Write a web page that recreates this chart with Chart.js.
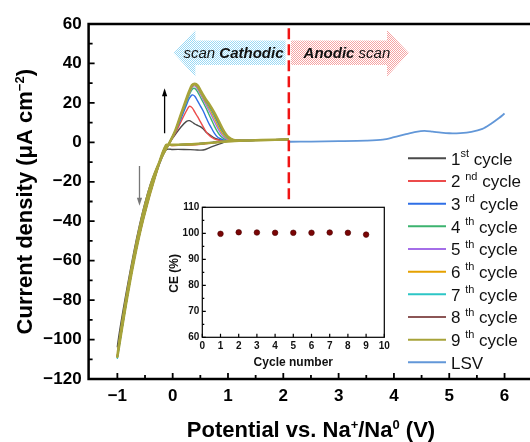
<!DOCTYPE html>
<html>
<head>
<meta charset="utf-8">
<script src="https://cdn.jsdelivr.net/npm/chart.js@4.4.1/dist/chart.umd.min.js"></script>
<style>
  html, body { margin: 0; padding: 0; background: #fff; overflow: hidden; }
  #wrap { position: relative; width: 530px; height: 442px; }
  #main { position: absolute; left: 0; top: 0; }
  #inset { position: absolute; left: 150px; top: 195px; }
</style>
</head>
<body>
<div id="wrap">
  <canvas id="main" width="530" height="442"></canvas>
  <canvas id="inset" width="245" height="180"></canvas>
</div>
<script>
// potential path of one CV cycle (V): cathodic sweep, down to -1 V, back anodic
var cvPotential = [2.1, 1.6, 1.2, 1.0, 0.85, 0.7, 0.55, 0.4, 0.2, 0.0, -0.12,
  -0.3, -0.53, -0.7, -0.85, -1.0,
  -0.82, -0.6, -0.4, -0.2, -0.05,
  0.05, 0.15, 0.25, 0.3, 0.35, 0.4, 0.45, 0.5, 0.55, 0.6, 0.65, 0.7, 0.75, 0.8, 0.85, 0.9, 0.95, 1.0, 1.1, 1.3, 1.6, 2.1];

// current density (uA cm-2) of each cycle
var cycle1 = [1.3, 1.0, 0.9, 0.6, -0.8, -2.3, -3.9, -3.8, -3.6, -3.6, -3.8,
  -16, -38, -58, -80, -103.6,
  -73, -42, -21, -7.5, 0,
  4, 7.8, 10.6, 11.0, 10.3, 9.3, 8.6, 8.0, 6.9, 5.3, 4.2, 3.2, 2.3, 1.7, 1.2, 0.9, 0.8, 0.8, 0.8, 0.9, 1.0, 1.3];
var cycle2 = [1.5, 1.1, 0.9, 0.7, 0.3, -0.3, -0.9, -1.3, -1.5, -1.6, -1.7,
  -16, -39, -59.5, -82.5, -108.3,
  -75.5, -43.5, -21.8, -7.5, 0.1,
  4.8, 10.5, 16, 18.2, 17.6, 15.3, 13, 10.5, 8, 5.6, 3.8, 2.6, 1.8, 1.3, 1.0, 0.9, 0.8, 0.8, 0.8, 0.9, 1.1, 1.5];
var cycle3 = [1.5, 1.1, 0.9, 0.7, 0.4, 0, -0.5, -0.9, -1.2, -1.4, -1.5,
  -15.5, -38.5, -60, -83, -108.7,
  -76, -44, -22, -7.5, 0.2,
  5.5, 12, 19, 22.3, 24, 23.4, 21, 18.5, 16, 12.8, 9.8, 7.3, 4.8, 3, 2, 1.4, 1.1, 0.9, 0.8, 0.9, 1.1, 1.5];
var cycle4 = [1.5, 1.1, 0.8, 0.5, 0.2, -0.2, -0.6, -0.9, -1.1, -1.3, -1.4,
  -15.5, -38.5, -60, -83, -108.5,
  -76, -44, -22, -7.5, 0.2,
  5.8, 13, 20.5, 24, 26.8, 27.3, 25.6, 23, 20.3, 17.5, 14.5, 11.5, 8.5, 5.8, 3.7, 2.3, 1.5, 1.1, 0.9, 0.9, 1.1, 1.5];
var cycle5 = [1.5, 1.1, 0.8, 0.5, 0.2, -0.2, -0.6, -0.9, -1.1, -1.3, -1.4,
  -15.5, -38.5, -60, -83, -108.8,
  -76, -44, -22, -7.5, 0.2,
  6, 13.6, 21.3, 24.8, 27.8, 28.6, 27, 24.5, 21.8, 19.2, 16.5, 13.8, 10.8, 8, 5.4, 3.4, 2.1, 1.4, 1.0, 1.0, 1.1, 1.5];
var cycle6 = [1.5, 1.1, 0.8, 0.5, 0.2, -0.2, -0.6, -0.9, -1.1, -1.3, -1.4,
  -15.5, -38.5, -60, -83, -108.6,
  -76, -44, -22, -7.5, 0.2,
  6, 13.8, 21.6, 25.2, 28.2, 29.2, 27.8, 25.3, 22.8, 20.3, 17.8, 15.3, 12.5, 9.6, 6.8, 4.5, 2.8, 1.8, 1.1, 1.0, 1.1, 1.5];
var cycle7 = [1.5, 1.1, 0.8, 0.5, 0.2, -0.2, -0.6, -0.9, -1.1, -1.3, -1.4,
  -15.5, -38.5, -60, -83.5, -109.5,
  -76.5, -44, -22, -7.5, 0.2,
  6.1, 14, 21.8, 25.5, 28.5, 29.4, 28.3, 25.8, 23.3, 21, 18.6, 16.3, 13.7, 10.8, 8, 5.5, 3.5, 2.2, 1.2, 1.0, 1.2, 1.5];
var cycle8 = [1.5, 1.1, 0.8, 0.5, 0.2, -0.2, -0.6, -0.9, -1.1, -1.3, -1.4,
  -15.5, -38.5, -60, -83, -108.6,
  -76, -44, -22, -7.5, 0.2,
  6.1, 14.1, 22, 25.8, 28.8, 29.6, 28.7, 26.2, 23.8, 21.4, 19.2, 17, 14.5, 11.6, 8.7, 6.1, 4, 2.5, 1.3, 1.0, 1.2, 1.5];
var cycle9 = [1.5, 1.1, 0.8, 0.5, 0.2, -0.2, -0.6, -0.9, -1.1, -1.3, -1.4,
  -15.5, -38.5, -60, -83, -108.7,
  -76, -44, -22, -7.5, 0.2,
  6.2, 14.3, 22.2, 26, 29, 29.7, 28.9, 26.5, 24, 21.7, 19.8, 17.6, 15.2, 12.6, 9.8, 7, 4.6, 2.8, 1.2, 0.9, 1.1, 1.5];

// LSV anodic scan
var lsvPotential = [2.12, 2.5, 3.0, 3.5, 3.8, 4.0, 4.2, 4.4, 4.55, 4.7, 4.85, 5.0, 5.2, 5.4, 5.6, 5.75, 5.9, 6.0];
var lsvCurrent = [0.3, 0.4, 0.6, 0.9, 1.4, 2.6, 4.0, 5.3, 5.8, 5.4, 4.9, 4.6, 4.7, 5.3, 6.8, 9.3, 12.3, 14.6];

// inset: coulombic efficiency
var ceCycle = [1, 2, 3, 4, 5, 6, 7, 8, 9];
var ceValue = [99.8, 100.4, 100.3, 100.2, 100.2, 100.2, 100.3, 100.2, 99.5];

var cycleNumbers = ['1', '2 ', '3 ', '4 ', '5 ', '6 ', '7 ', '8 ', '9 '];
var cycleOrdinals = ['st', 'nd', 'rd', 'th', 'th', 'th', 'th', 'th', 'th'];

var xTicks = [-1, 0, 1, 2, 3, 4, 5, 6];
var yTicks = [-120, -100, -80, -60, -40, -20, 0, 20, 40, 60];
var insetXTicks = [0, 1, 2, 3, 4, 5, 6, 7, 8, 9, 10];
var insetYTicks = [60, 70, 80, 90, 100, 110];

var switchPotential = 2.1;   // dashed line between cathodic / anodic scans
var switchLineBottom = -28.8;

var FONT = "'Liberation Sans', Arial, sans-serif";
var cycleColors = ['#4a4a4a', '#ec4b4b', '#2f6fe6', '#3cb36f', '#a46ee8', '#e5a100', '#2cc6c6', '#8c5656', '#a7a33a'];
var lsvColor = '#6297d8';

var cycles = [cycle1, cycle2, cycle3, cycle4, cycle5, cycle6, cycle7, cycle8, cycle9];

var datasets = [];
cycles.forEach(function (cur, i) {
  datasets.push({
    label: cycleNumbers[i] + cycleOrdinals[i] + ' cycle',
    data: cvPotential.map(function (v, j) { return {x: v, y: cur[j]}; }),
    borderColor: cycleColors[i],
    borderWidth: i == 8 ? 2.6 : 1.4,
    pointRadius: 0,
    tension: 0.3,
    order: 20 - i
  });
});
datasets.push({
  label: 'LSV',
  data: lsvPotential.map(function (v, j) { return {x: v, y: lsvCurrent[j]}; }),
  borderColor: lsvColor,
  borderWidth: 1.8,
  pointRadius: 0,
  tension: 0.3,
  order: 0
});
datasets.push({
  label: 'switch',
  data: [{x: switchPotential, y: switchLineBottom}, {x: switchPotential, y: 60}],
  borderColor: '#f01414',
  borderWidth: 2.5,
  borderDash: [11, 5],
  pointRadius: 0,
  order: -1
});

// draw text made of normal and superscript pieces
function drawRich(ctx, parts, x, y, align, font, supFont, rise) {
  var w = 0;
  parts.forEach(function (p) {
    ctx.font = p[1] ? supFont : font;
    w += ctx.measureText(p[0]).width;
  });
  var cx = align == 'center' ? x - w / 2 : x;
  ctx.textAlign = 'left';
  ctx.textBaseline = 'alphabetic';
  parts.forEach(function (p) {
    ctx.font = p[1] ? supFont : font;
    ctx.fillText(p[0], cx, p[1] ? y - rise : y);
    cx += ctx.measureText(p[0]).width;
  });
}

function dotPattern(ctx, color) {
  var c = document.createElement('canvas');
  c.width = 2; c.height = 2;
  var g = c.getContext('2d');
  g.fillStyle = '#fff';
  g.fillRect(0, 0, 2, 2);
  g.fillStyle = color;
  g.fillRect(0, 0, 1, 1);
  g.fillRect(1, 1, 1, 1);
  return ctx.createPattern(c, 'repeat');
}

function smallArrow(ctx, x, y1, y2, color) {
  ctx.strokeStyle = color;
  ctx.fillStyle = color;
  ctx.lineWidth = 1.3;
  var dir = y2 > y1 ? 1 : -1;
  ctx.beginPath();
  ctx.moveTo(x, y1);
  ctx.lineTo(x, y2 - dir * 7);
  ctx.stroke();
  ctx.beginPath();
  ctx.moveTo(x, y2);
  ctx.lineTo(x - 2.6, y2 - dir * 8);
  ctx.lineTo(x + 2.6, y2 - dir * 8);
  ctx.closePath();
  ctx.fill();
}

// frame, inward ticks, scan arrows
var mainDecor = {
  id: 'mainDecor',
  beforeDatasetsDraw: function (chart) {
    var ctx = chart.ctx, xs = chart.scales.x, ys = chart.scales.y;
    ctx.save();
    // cathodic scan arrow (points left)
    var yc = ys.getPixelForValue(45.3), bt = ys.getPixelForValue(51.6), bb = ys.getPixelForValue(39.2);
    var ht = ys.getPixelForValue(57), hb = ys.getPixelForValue(33.4);
    ctx.fillStyle = dotPattern(ctx, '#9ad9f5');
    ctx.beginPath();
    ctx.moveTo(xs.getPixelForValue(0.016), yc);
    ctx.lineTo(xs.getPixelForValue(0.41), ht);
    ctx.lineTo(xs.getPixelForValue(0.41), bt);
    ctx.lineTo(xs.getPixelForValue(2.04), bt);
    ctx.lineTo(xs.getPixelForValue(2.04), bb);
    ctx.lineTo(xs.getPixelForValue(0.41), bb);
    ctx.lineTo(xs.getPixelForValue(0.41), hb);
    ctx.closePath();
    ctx.fill();
    // anodic scan arrow (points right)
    ctx.fillStyle = dotPattern(ctx, '#f6a3a3');
    ctx.beginPath();
    ctx.moveTo(xs.getPixelForValue(4.27), yc);
    ctx.lineTo(xs.getPixelForValue(3.875), ht);
    ctx.lineTo(xs.getPixelForValue(3.875), bt);
    ctx.lineTo(xs.getPixelForValue(2.14), bt);
    ctx.lineTo(xs.getPixelForValue(2.14), bb);
    ctx.lineTo(xs.getPixelForValue(3.875), bb);
    ctx.lineTo(xs.getPixelForValue(3.875), hb);
    ctx.closePath();
    ctx.fill();
    // arrow texts
    ctx.fillStyle = '#111';
    var ty = yc + 5.5;
    var it = 'italic 15px ' + FONT, bi = 'italic bold 15px ' + FONT;
    var parts = [['scan ', it], ['Cathodic', bi]];
    var w = 0;
    parts.forEach(function (p) { ctx.font = p[1]; w += ctx.measureText(p[0]).width; });
    var cx = xs.getPixelForValue(1.10) - w / 2;
    ctx.textAlign = 'left';
    parts.forEach(function (p) { ctx.font = p[1]; ctx.fillText(p[0], cx, ty); cx += ctx.measureText(p[0]).width; });
    parts = [['Anodic', bi], [' scan', it]];
    w = 0;
    parts.forEach(function (p) { ctx.font = p[1]; w += ctx.measureText(p[0]).width; });
    cx = xs.getPixelForValue(3.15) - w / 2;
    parts.forEach(function (p) { ctx.font = p[1]; ctx.fillText(p[0], cx, ty); cx += ctx.measureText(p[0]).width; });
    // small arrows showing growth of peaks
    smallArrow(ctx, xs.getPixelForValue(-0.146), ys.getPixelForValue(4.6), ys.getPixelForValue(27.4), '#000');
    smallArrow(ctx, xs.getPixelForValue(-0.60), ys.getPixelForValue(-12), ys.getPixelForValue(-32.2), '#777');
    ctx.restore();
  },
  afterDraw: function (chart) {
    var ctx = chart.ctx, a = chart.chartArea, xs = chart.scales.x, ys = chart.scales.y;
    ctx.save();
    ctx.strokeStyle = '#000';
    ctx.lineWidth = 2.5;
    ctx.beginPath();
    ctx.moveTo(a.right + 2, a.top);
    ctx.lineTo(a.left, a.top);
    ctx.lineTo(a.left, a.bottom);
    ctx.lineTo(a.right + 2, a.bottom);
    ctx.stroke();
    ctx.lineWidth = 1.8;
    ctx.beginPath();
    yTicks.forEach(function (v, i) {
      var p = ys.getPixelForValue(v);
      ctx.moveTo(a.left, p); ctx.lineTo(a.left + 6, p);
      if (i < yTicks.length - 1) {
        var m = ys.getPixelForValue(v + 10);
        ctx.moveTo(a.left, m); ctx.lineTo(a.left + 4, m);
      }
    });
    xTicks.forEach(function (v) {
      var p = xs.getPixelForValue(v);
      ctx.moveTo(p, a.bottom); ctx.lineTo(p, a.bottom - 6);
      [v - 0.5, v + 0.5].forEach(function (mv) {
        if (mv > xs.min + 0.03 && mv < xs.max) {
          var m = xs.getPixelForValue(mv);
          ctx.moveTo(m, a.bottom); ctx.lineTo(m, a.bottom - 4);
        }
      });
    });
    ctx.stroke();

    // axis titles
    ctx.fillStyle = '#000';
    drawRich(ctx, [['Potential vs. Na', false], ['+', true], ['/Na', false], ['0', true], [' (V)', false]],
      311, 437.3, 'center', 'bold 22px ' + FONT, 'bold 13px ' + FONT, 8);
    ctx.translate(31.5, 201.7);
    ctx.rotate(-Math.PI / 2);
    drawRich(ctx, [['Current density (\u03bcA cm', false], ['\u22122', true], [')', false]],
      0, 0, 'center', 'bold 22px ' + FONT, 'bold 13px ' + FONT, 8);
    ctx.restore();

    // legend
    ctx.save();
    var rowY = 158.3, step = 22.67;
    var rows = cycles.map(function (c, i) {
      return {color: cycleColors[i], parts: [[cycleNumbers[i], false], [cycleOrdinals[i], true], [' cycle', false]]};
    });
    rows.push({color: lsvColor, parts: [['LSV', false]]});
    rows.forEach(function (r, i) {
      var y = rowY + i * step;
      ctx.strokeStyle = r.color;
      ctx.lineWidth = 2;
      ctx.beginPath();
      ctx.moveTo(408, y); ctx.lineTo(446, y);
      ctx.stroke();
      ctx.fillStyle = '#111';
      drawRich(ctx, r.parts, 451, y + 6.2, 'left', '17px ' + FONT, '11px ' + FONT, 7.5);
    });
    ctx.restore();
  }
};

var mainChart = new Chart(document.getElementById('main'), {
  type: 'line',
  data: {datasets: datasets},
  options: {
    responsive: false,
    animation: false,
    events: [],
    layout: {padding: {top: 24, left: 0, right: 0, bottom: 0}},
    plugins: {legend: {display: false}, tooltip: {enabled: false}},
    scales: {
      x: {
        type: 'linear',
        min: -1.52,
        max: 6.46,
        grid: {display: false, drawTicks: false},
        border: {display: false},
        afterBuildTicks: function (s) { s.ticks = xTicks.map(function (v) { return {value: v}; }); },
        afterFit: function (s) { s.height = 63; },
        ticks: {
          font: {family: FONT, size: 17, weight: 'bold'},
          color: '#000',
          padding: 7,
          maxRotation: 0,
          callback: function (v) { return String(v).replace('-', '\u2212'); }
        }
      },
      y: {
        min: -120,
        max: 60,
        grid: {display: false, drawTicks: false},
        border: {display: false},
        afterBuildTicks: function (s) { s.ticks = yTicks.map(function (v) { return {value: v}; }); },
        afterFit: function (s) { s.width = 88.6; },
        ticks: {
          font: {family: FONT, size: 17, weight: 'bold'},
          color: '#000',
          padding: 7,
          callback: function (v) { return String(v).replace('-', '\u2212'); }
        }
      }
    }
  },
  plugins: [mainDecor]
});

// inset frame, ticks and titles
var insetDecor = {
  id: 'insetDecor',
  afterDraw: function (chart) {
    var ctx = chart.ctx, a = chart.chartArea, xs = chart.scales.x, ys = chart.scales.y;
    ctx.save();
    ctx.strokeStyle = '#000';
    ctx.lineWidth = 1.2;
    ctx.strokeRect(a.left, a.top, a.right - a.left, a.bottom - a.top);
    ctx.beginPath();
    insetYTicks.forEach(function (v, i) {
      var p = ys.getPixelForValue(v);
      ctx.moveTo(a.left, p); ctx.lineTo(a.left + 3.5, p);
      if (i < insetYTicks.length - 1) {
        var m = ys.getPixelForValue(v + 5);
        ctx.moveTo(a.left, m); ctx.lineTo(a.left + 2, m);
      }
    });
    insetXTicks.forEach(function (v) {
      var p = xs.getPixelForValue(v);
      ctx.moveTo(p, a.bottom); ctx.lineTo(p, a.bottom - 3.5);
    });
    ctx.stroke();
    ctx.fillStyle = '#111';
    ctx.font = 'bold 12px ' + FONT;
    ctx.textAlign = 'center';
    ctx.textBaseline = 'middle';
    ctx.fillText('Cycle number', 143.3, 167.7);
    ctx.translate(25, 78.3);
    ctx.rotate(-Math.PI / 2);
    ctx.fillText('CE (%)', 0, 0);
    ctx.restore();
  }
};

var insetChart = new Chart(document.getElementById('inset'), {
  type: 'scatter',
  data: {
    datasets: [{
      data: ceCycle.map(function (c, i) { return {x: c, y: ceValue[i]}; }),
      backgroundColor: '#7a0505',
      borderColor: '#4a0000',
      borderWidth: 0.6,
      pointRadius: 2.8
    }]
  },
  options: {
    responsive: false,
    animation: false,
    events: [],
    layout: {padding: {top: 12.3, right: 10.7, left: 0, bottom: 0}},
    plugins: {legend: {display: false}, tooltip: {enabled: false}},
    scales: {
      x: {
        min: 0,
        max: 10,
        grid: {display: false, drawTicks: false},
        border: {display: false},
        afterBuildTicks: function (s) { s.ticks = insetXTicks.map(function (v) { return {value: v}; }); },
        afterFit: function (s) { s.height = 37.7; },
        ticks: {font: {family: FONT, size: 10, weight: 'bold'}, color: '#111', padding: 3, maxRotation: 0}
      },
      y: {
        min: 60,
        max: 110,
        grid: {display: false, drawTicks: false},
        border: {display: false},
        afterBuildTicks: function (s) { s.ticks = insetYTicks.map(function (v) { return {value: v}; }); },
        afterFit: function (s) { s.width = 52.3; },
        ticks: {font: {family: FONT, size: 10, weight: 'bold'}, color: '#111', padding: 3}
      }
    }
  },
  plugins: [insetDecor]
});
</script>
</body>
</html>
